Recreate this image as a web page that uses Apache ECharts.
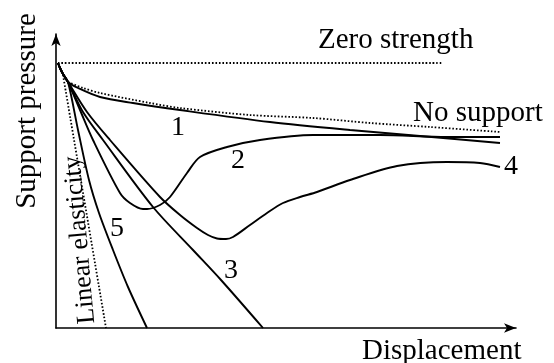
<!DOCTYPE html>
<html>
<head>
<meta charset="utf-8">
<script src="https://cdn.jsdelivr.net/npm/echarts@6/dist/echarts.min.js"></script>
<style>
html, body { margin: 0; padding: 0; background: #fff; }
#chart { width: 554px; height: 363px; }
</style>
</head>
<body>
<div id="chart"></div>
<script>
// values (arbitrary units: displacement, support pressure)
var startSeg = [[2, 265], [4, 260], [7, 254], [12, 246]];
var zeroStrength = [[2, 265], [386, 265]];
var noSupport = [[12, 246], [27, 240], [44, 235], [94, 225], [124, 220], [194, 213], [257, 210], [314, 205], [374, 201], [444, 196]];
var linearElastic = [[7, 253], [50, 0]];
var curve1 = [[22, 240], [44, 231], [77, 225], [124, 218], [214, 206], [294, 198], [364, 192], [444, 185]];
var curve2 = [[24, 218], [37, 188], [64, 135], [74, 125], [87, 119], [91, 119], [104, 123], [114, 131], [131, 155], [144, 171], [171, 181], [204, 188], [257, 193], [324, 193], [391, 191], [444, 191]];
var curve3 = [[27, 216], [47, 188], [97, 121], [137, 78], [165, 48], [207, 0]];
var curve4 = [[31, 216], [54, 188], [104, 131], [124, 113], [141, 100], [152, 93], [161, 89.5], [170, 89], [177, 91], [194, 103], [211, 115], [227, 125], [244, 131], [261, 136], [294, 148], [341, 162], [391, 166], [424, 165], [444, 161]];
var curve5 = [[22, 198], [33, 148], [43, 115], [57, 78], [72, 41], [91, 0]];

var curveNames = ['1', '2', '3', '4', '5'];
var curveLabelPos = [[178, 128], [238, 161], [231, 271], [511, 167], [117, 229]];

var chart = echarts.init(document.getElementById('chart'));
var font = 'Liberation Serif, Times New Roman, serif';

function solid(data) {
	return {
		type: 'line',
		data: startSeg.concat(data),
		symbol: 'none',
		smooth: 0.3,
		silent: true,
		lineStyle: { color: '#000', width: 1.9 }
	};
}
function dotted(data) {
	return {
		type: 'line',
		data: data,
		symbol: 'none',
		smooth: 0.3,
		silent: true,
		lineStyle: { color: '#000', width: 1.8, type: [1.6, 1.9], cap: 'butt' }
	};
}

var axisCommon = {
	type: 'value',
	min: 0,
	axisTick: { show: false },
	axisLabel: { show: false },
	splitLine: { show: false },
	axisLine: {
		show: true,
		onZero: false,
		symbol: ['none', 'arrow'],
		symbolSize: [7, 12],
		lineStyle: { color: '#000', width: 1.6 }
	}
};

var graphics = [
	{ type: 'text', x: 318, y: 40, style: { text: 'Zero strength', font: '29px ' + font, fill: '#000', align: 'left', verticalAlign: 'middle' } },
	{ type: 'text', x: 413, y: 113, style: { text: 'No support', font: '29px ' + font, fill: '#000', align: 'left', verticalAlign: 'middle' } },
	{ type: 'text', x: 362, y: 351, style: { text: 'Displacement', font: '29px ' + font, fill: '#000', align: 'left', verticalAlign: 'middle' } },
	{ type: 'text', x: 27, y: 111, rotation: Math.PI / 2, style: { text: 'Support pressure', font: '29px ' + font, fill: '#000', align: 'center', verticalAlign: 'middle' } },
	{ type: 'text', x: 80, y: 240, rotation: 95 * Math.PI / 180, style: { text: 'Linear elasticity', font: '26px ' + font, fill: '#000', align: 'center', verticalAlign: 'middle' } }
];
for (var i = 0; i < curveNames.length; i++) {
	graphics.push({ type: 'text', x: curveLabelPos[i][0], y: curveLabelPos[i][1], style: { text: curveNames[i], font: '28px ' + font, fill: '#000', align: 'center', verticalAlign: 'middle' } });
}

chart.setOption({
	animation: false,
	backgroundColor: '#fff',
	grid: { left: 56, right: 38, top: 34, bottom: 35 },
	xAxis: Object.assign({}, axisCommon, { max: 460 }),
	yAxis: Object.assign({}, axisCommon, { max: 294 }),
	series: [
		dotted(zeroStrength),
		dotted(noSupport),
		dotted(linearElastic),
		solid(curve1),
		solid(curve2),
		solid(curve3),
		solid(curve4),
		solid(curve5)
	],
	graphic: graphics
});
</script>
</body>
</html>
